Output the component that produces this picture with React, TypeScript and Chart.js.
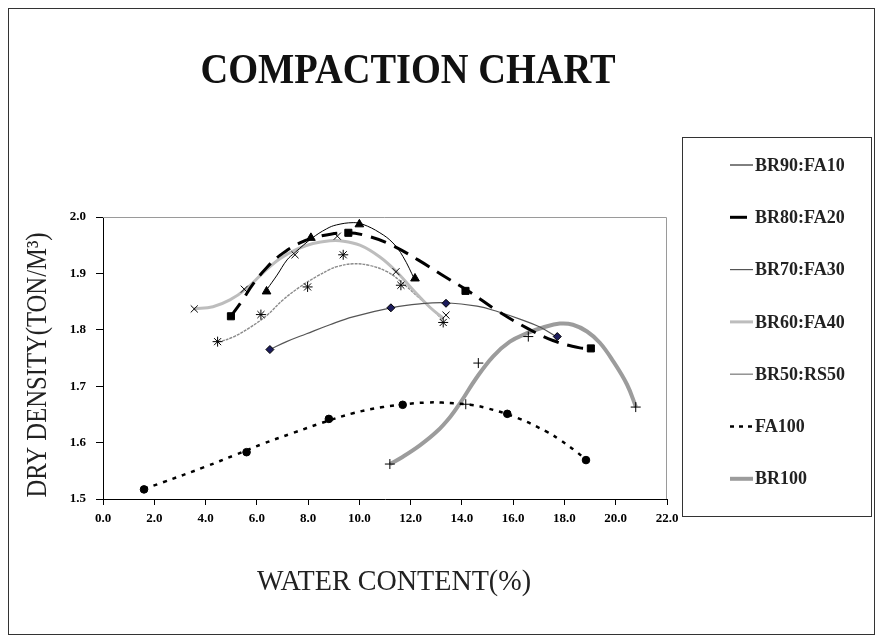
import React, { useEffect, useRef } from "react";
import { Chart, registerables } from "chart.js";

Chart.register(...registerables);

const SERIF = '"Liberation Serif", "Times New Roman", Times, serif';

// ---------- data ----------
const seriesNames = ["BR90:FA10", "BR80:FA20", "BR70:FA30", "BR60:FA40", "BR50:RS50", "FA100", "BR100"];

const xTickValues = [0, 2, 4, 6, 8, 10, 12, 14, 16, 18, 20, 22];
const yTickValues = [1.5, 1.6, 1.7, 1.8, 1.9, 2.0];

// measured points (water content %, dry density)
const br90X = [6.38, 8.11, 10.0, 12.17];
const br90Y = [1.868, 1.963, 1.987, 1.891];
const br80X = [4.99, 9.57, 14.14, 19.03];
const br80Y = [1.824, 1.972, 1.869, 1.767];
const br70X = [6.51, 11.23, 13.38, 17.72];
const br70Y = [1.765, 1.839, 1.847, 1.788];
const br60X = [3.56, 5.51, 7.49, 9.14, 11.43, 13.38];
const br60Y = [1.837, 1.872, 1.933, 1.966, 1.903, 1.826];
const br50X = [4.47, 6.16, 7.98, 9.37, 11.62, 13.27];
const br50Y = [1.779, 1.827, 1.876, 1.933, 1.879, 1.813];
const fa100X = [1.6, 5.6, 8.81, 11.69, 15.77, 18.84];
const fa100Y = [1.517, 1.583, 1.642, 1.667, 1.651, 1.569];
const br100X = [11.19, 14.15, 14.64, 16.59, 20.78];
const br100Y = [1.562, 1.668, 1.741, 1.788, 1.663];

// trend curves
const br90CurveX = [6.4, 6.79, 7.18, 7.49, 8.14, 8.72, 9.11, 9.76, 10.14, 10.8, 11.31, 11.7, 12.17];
const br90CurveY = [1.872, 1.897, 1.924, 1.937, 1.962, 1.979, 1.986, 1.99, 1.987, 1.972, 1.954, 1.93, 1.888];
const br80CurveX = [4.99, 5.42, 5.85, 6.4, 6.9, 7.68, 8.46, 9.56, 10.41, 11.27, 12.29, 13.34, 14.31, 15.37, 16.54, 17.55, 18.6, 19.03];
const br80CurveY = [1.824, 1.851, 1.881, 1.911, 1.932, 1.954, 1.966, 1.972, 1.965, 1.95, 1.924, 1.894, 1.867, 1.834, 1.803, 1.781, 1.768, 1.767];
const br70CurveX = [6.51, 7.16, 7.94, 8.85, 9.75, 11.23, 12.36, 13.38, 14.59, 15.41, 16.26, 17.04, 17.71];
const br70CurveY = [1.765, 1.779, 1.793, 1.809, 1.823, 1.839, 1.846, 1.848, 1.842, 1.832, 1.819, 1.805, 1.787];
const br60CurveX = [3.55, 4.29, 4.95, 5.62, 6.24, 6.9, 7.57, 8.19, 8.85, 9.24, 10.02, 10.8, 11.47, 12.09, 12.75, 13.26];
const br60CurveY = [1.837, 1.841, 1.853, 1.874, 1.901, 1.926, 1.943, 1.953, 1.958, 1.958, 1.95, 1.929, 1.902, 1.871, 1.84, 1.821];
const br50CurveX = [4.49, 5.07, 5.73, 6.4, 7.02, 7.68, 8.35, 8.85, 9.13, 9.75, 10.41, 11.08, 11.58, 12.25, 12.87, 13.26];
const br50CurveY = [1.778, 1.787, 1.804, 1.826, 1.853, 1.876, 1.895, 1.907, 1.912, 1.917, 1.914, 1.903, 1.887, 1.86, 1.835, 1.817];
const fa100CurveX = [1.6, 2.3, 3.98, 5.15, 6.24, 7.41, 8.54, 9.75, 10.92, 11.97, 12.64, 13.22, 14.31, 14.98, 16.15, 17.32, 17.82, 18.49, 18.84];
const fa100CurveY = [1.518, 1.529, 1.557, 1.578, 1.598, 1.617, 1.635, 1.652, 1.663, 1.669, 1.671, 1.671, 1.667, 1.661, 1.644, 1.619, 1.605, 1.583, 1.569];
const br100CurveX = [11.19, 11.7, 12.36, 13.03, 13.55, 13.93, 14.57, 15.22, 15.87, 16.54, 17.16, 17.82, 18.33, 18.88, 19.38, 19.89, 20.44, 20.79];
const br100CurveY = [1.562, 1.575, 1.595, 1.62, 1.646, 1.67, 1.715, 1.753, 1.779, 1.794, 1.804, 1.811, 1.809, 1.797, 1.777, 1.745, 1.703, 1.663];

const markerXs = [br90X, br80X, br70X, br60X, br50X, fa100X, br100X];
const markerYs = [br90Y, br80Y, br70Y, br60Y, br50Y, fa100Y, br100Y];
const curveXs = [br90CurveX, br80CurveX, br70CurveX, br60CurveX, br50CurveX, fa100CurveX, br100CurveX];
const curveYs = [br90CurveY, br80CurveY, br70CurveY, br60CurveY, br50CurveY, fa100CurveY, br100CurveY];

// ---------- styles ----------
const lineColors = ["#000000", "#000000", "#555555", "#bdbdbd", "#8a8a8a", "#000000", "#9c9c9c"];
const lineWidths = [1, 3, 1.2, 3, 1.4, 2.5, 4];
const lineDashes: number[][] = [[], [16, 9], [], [], [3, 1], [4, 6], []];
const legendDashes: number[][] = [[], [17, 8], [], [], [], [4, 5], []];
const pointStyles = ["triangle", "rect", "rectRot", "crossRot", "star", "circle", "cross"];
const pointRadii = [5, 5, 4, 5, 5, 3.8, 5];
const pointFills = ["#000000", "#000000", "#1c1c5c", "#000000", "#000000", "#000000", "#000000"];

const pts = (xs: number[], ys: number[]) => xs.map((x, i) => ({ x, y: ys[i] }));

function drawScaledText(ctx: CanvasRenderingContext2D, text: string, cx: number, cy: number, font: string, targetWidth: number, rotation: number, color: string) {
  ctx.save();
  ctx.font = font;
  const w = ctx.measureText(text).width;
  const sx = Math.min(1, targetWidth / w);
  ctx.translate(cx, cy);
  ctx.rotate(rotation);
  ctx.scale(sx, 1);
  ctx.textAlign = "center";
  ctx.textBaseline = "middle";
  ctx.fillStyle = color;
  ctx.fillText(text, 0, 0);
  ctx.restore();
}

const decorPlugin = {
  id: "decor",
  beforeDatasetsDraw(chart: any) {
    const { ctx, chartArea: a } = chart;
    ctx.save();
    ctx.strokeStyle = "#9a9a9a";
    ctx.lineWidth = 1;
    ctx.beginPath();
    ctx.moveTo(a.left, a.top + 0.5);
    ctx.lineTo(a.right - 0.5, a.top + 0.5);
    ctx.lineTo(a.right - 0.5, a.bottom);
    ctx.stroke();
    ctx.restore();
  },
  afterDraw(chart: any) {
    const ctx: CanvasRenderingContext2D = chart.ctx;
    drawScaledText(ctx, "COMPACTION CHART", 399, 63, `bold 42px ${SERIF}`, 415, 0, "#111111");
    drawScaledText(ctx, "WATER CONTENT(%)", 385, 573, `29px ${SERIF}`, 274, 0, "#222222");
    drawScaledText(ctx, "DRY DENSITY(TON/M³)", 29, 356, `29px ${SERIF}`, 265, -Math.PI / 2, "#222222");

    // legend
    ctx.save();
    ctx.strokeStyle = "#333333";
    ctx.lineWidth = 1;
    ctx.strokeRect(673.5, 128.5, 189, 379);
    seriesNames.forEach((name, i) => {
      const y = 156 + i * 52.3;
      ctx.save();
      ctx.strokeStyle = lineColors[i];
      ctx.lineWidth = lineWidths[i];
      ctx.setLineDash(legendDashes[i]);
      ctx.beginPath();
      ctx.moveTo(721, y);
      ctx.lineTo(744, y);
      ctx.stroke();
      ctx.restore();
      ctx.font = `bold 18px ${SERIF}`;
      ctx.fillStyle = "#222222";
      ctx.textAlign = "left";
      ctx.textBaseline = "middle";
      ctx.fillText(name, 746, y + 1);
    });
    ctx.restore();
  },
};

export default function App() {
  const ref = useRef<HTMLCanvasElement | null>(null);

  useEffect(() => {
    if (!ref.current) return;
    const markerSets = seriesNames.map((name, i) => ({
      label: name + " points",
      data: pts(markerXs[i], markerYs[i]),
      showLine: false,
      pointStyle: pointStyles[i],
      pointRadius: pointRadii[i],
      pointBackgroundColor: pointFills[i],
      pointBorderColor: "#000000",
      pointBorderWidth: 1,
      order: 0,
    }));
    const curveSets = seriesNames.map((name, i) => ({
      label: name,
      data: pts(curveXs[i], curveYs[i]),
      showLine: true,
      borderColor: lineColors[i],
      borderWidth: lineWidths[i],
      borderDash: lineDashes[i],
      pointRadius: 0,
      tension: 0.4,
      fill: false,
      order: 1,
    }));

    const tickFont = { family: SERIF, size: 13, weight: "bold" as const };

    const chart = new Chart(ref.current, {
      type: "scatter",
      data: { datasets: [...markerSets, ...curveSets] as any },
      options: {
        responsive: false,
        animation: false,
        layout: { padding: { top: 208, right: 207, left: 0, bottom: 0 } },
        plugins: {
          legend: { display: false },
          title: { display: false },
          tooltip: { enabled: false },
        },
        scales: {
          x: {
            type: "linear",
            min: 0,
            max: 22,
            afterBuildTicks: (s: any) => {
              s.ticks = xTickValues.map((v) => ({ value: v }));
            },
            ticks: {
              callback: (v: any) => Number(v).toFixed(1),
              font: tickFont,
              color: "#000000",
              padding: 6,
              maxRotation: 0,
              autoSkip: false,
            },
            grid: { display: true, drawOnChartArea: false, drawTicks: true, tickLength: 6, color: "#000000" },
            border: { display: true, color: "#000000", width: 1 },
            afterFit: (s: any) => {
              s.height = 135;
              s.paddingLeft = 0;
              s.paddingRight = 0;
            },
          },
          y: {
            type: "linear",
            min: 1.5,
            max: 2.0,
            afterBuildTicks: (s: any) => {
              s.ticks = yTickValues.map((v) => ({ value: v }));
            },
            ticks: {
              callback: (v: any) => Number(v).toFixed(1),
              font: tickFont,
              color: "#000000",
              padding: 10,
              autoSkip: false,
            },
            grid: { display: true, drawOnChartArea: false, drawTicks: true, tickLength: 7, color: "#000000" },
            border: { display: true, color: "#000000", width: 1 },
            afterFit: (s: any) => {
              s.width = 94;
              s.paddingTop = 0;
              s.paddingBottom = 0;
            },
          },
        },
      },
      plugins: [decorPlugin],
    });
    return () => chart.destroy();
  }, []);

  return (
    <div style={{ display: "inline-block", border: "1px solid #333", lineHeight: 0 }}>
      <canvas ref={ref} width={865} height={625} style={{ display: "block" }} />
    </div>
  );
}
